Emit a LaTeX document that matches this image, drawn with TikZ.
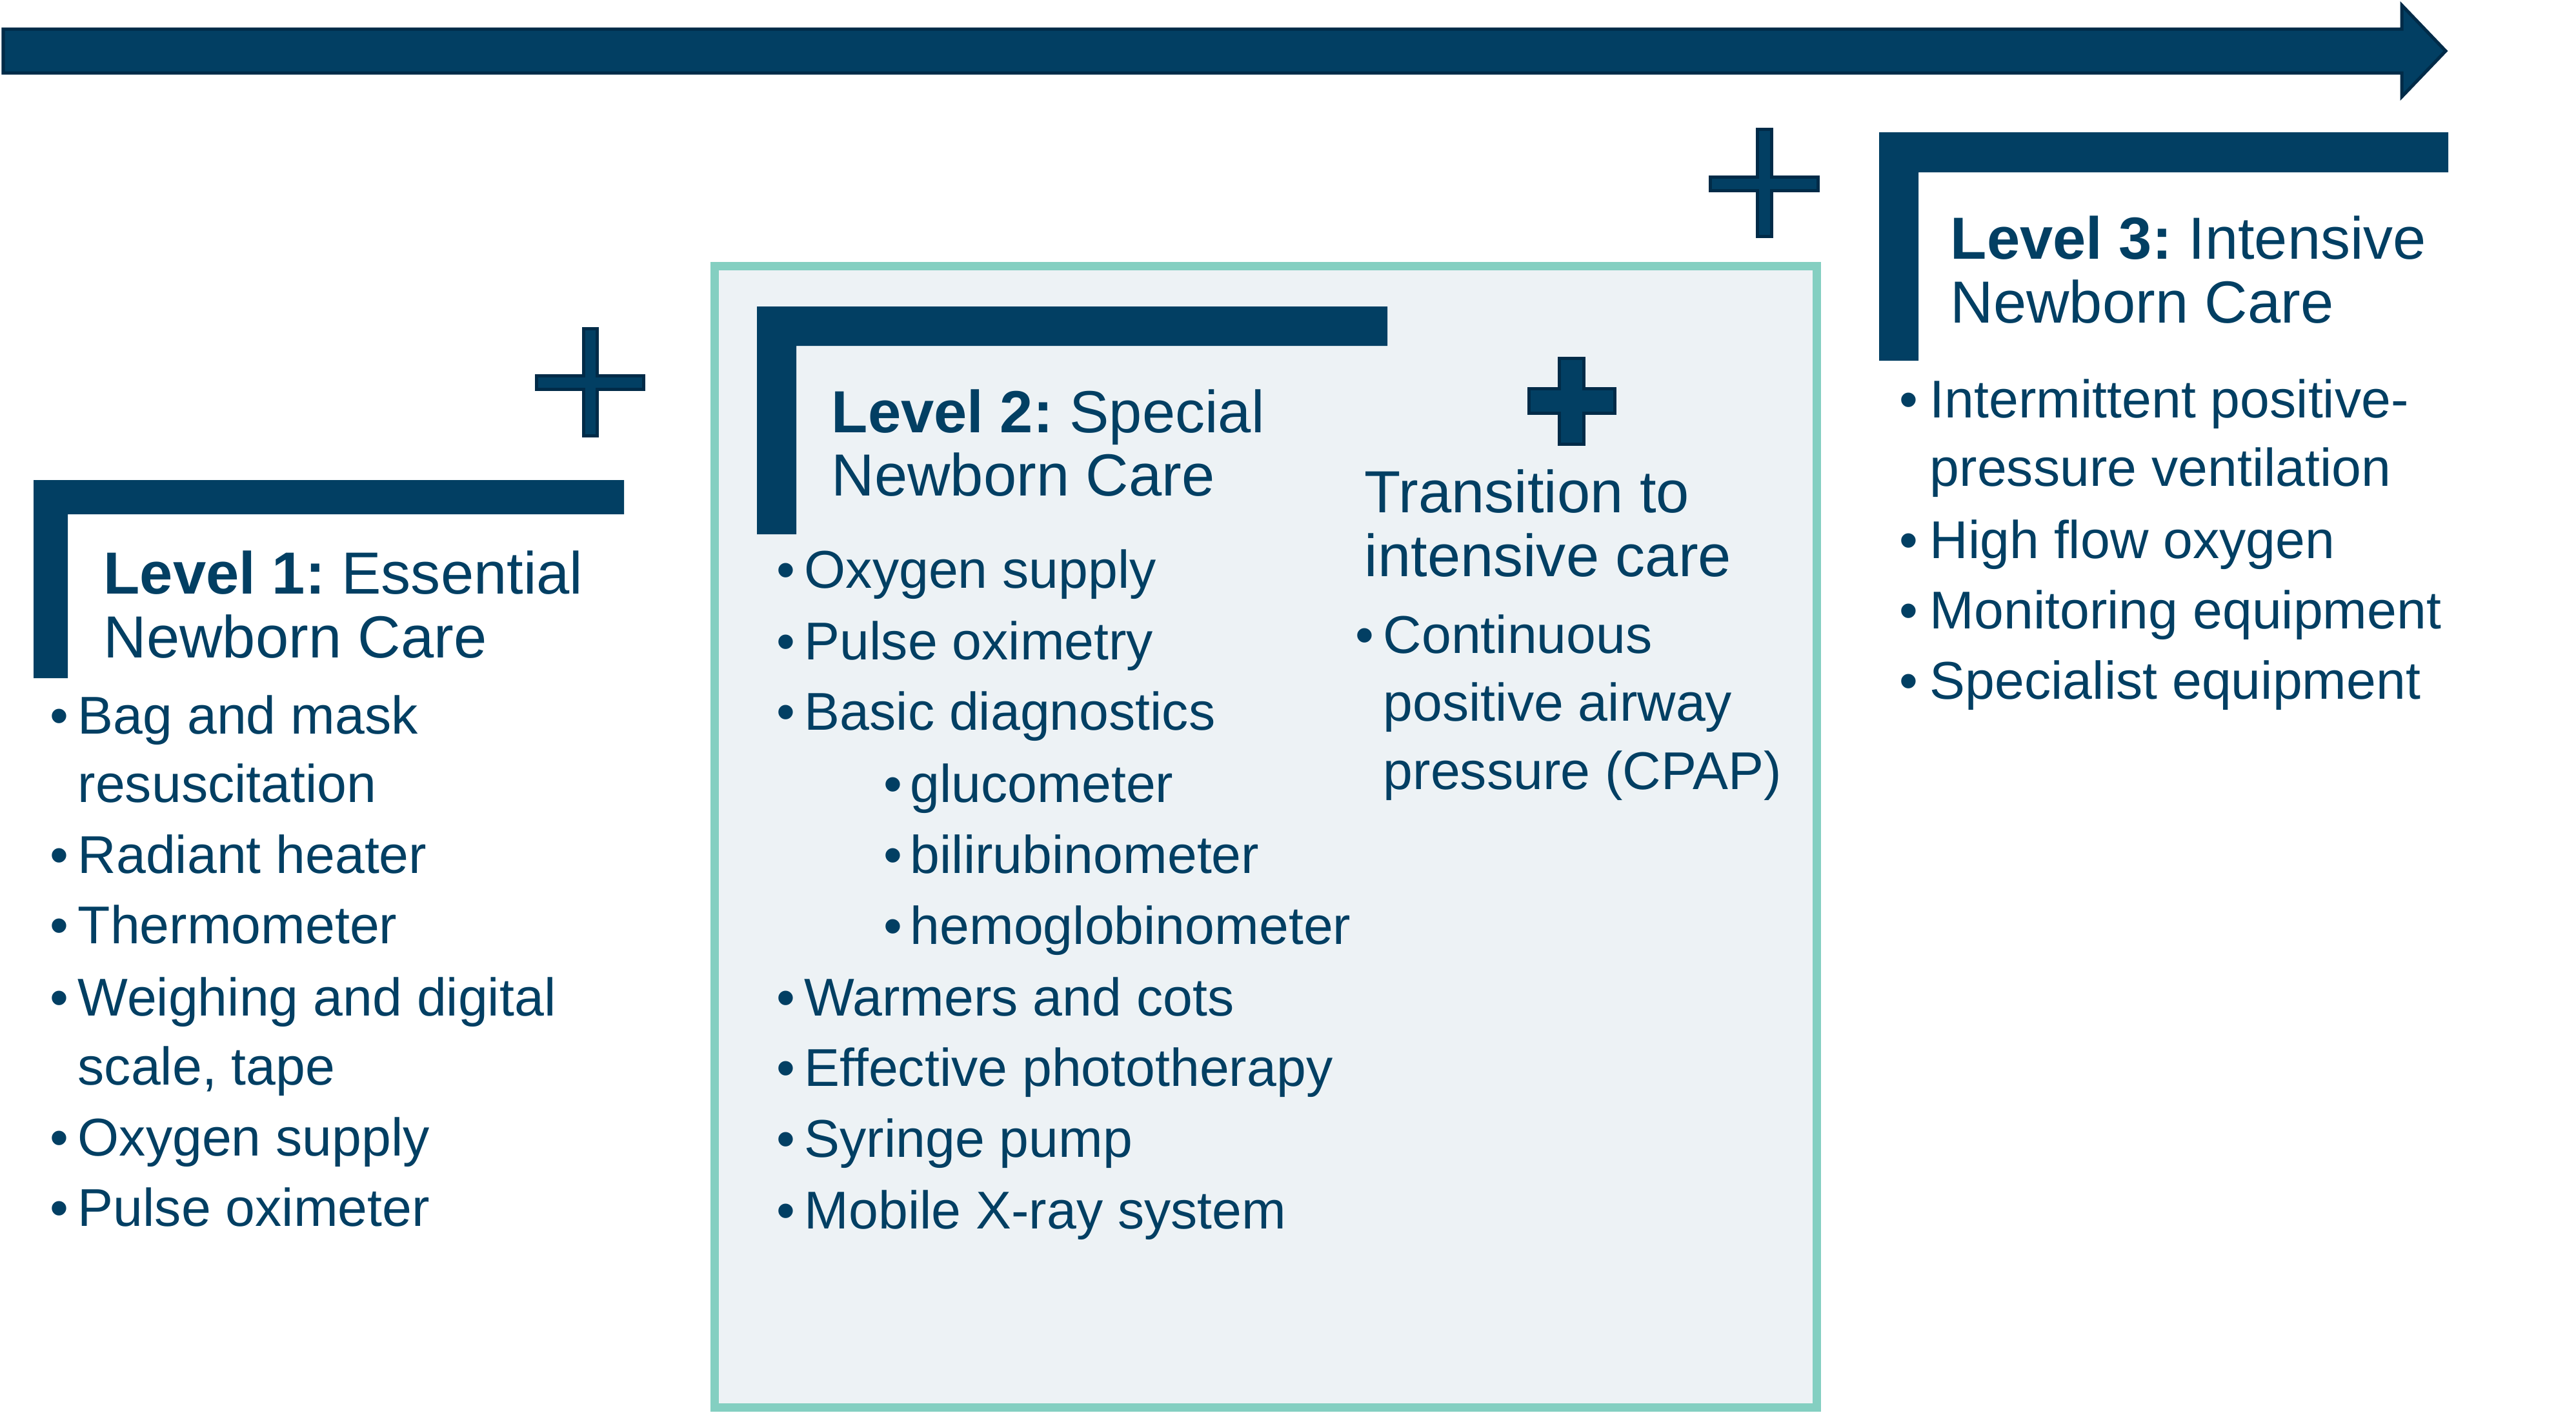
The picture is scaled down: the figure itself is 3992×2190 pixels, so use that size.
\documentclass[tikz,border=0pt]{standalone}
\usepackage{fontspec}
\setmainfont{Liberation Sans}
\frenchspacing
\definecolor{navy}{HTML}{023F63}
\definecolor{navydark}{HTML}{012B48}
\definecolor{tealb}{HTML}{84CFC1}
\definecolor{boxfill}{HTML}{EDF2F5}
\tikzset{
  bar/.style={fill=navy, draw=none},
  cross/.style={fill=navy, draw=navydark, line width=0.05cm, line join=miter},
  body/.style={inner sep=0pt, anchor=base west, text=navy, font=\fontsize{23.44pt}{28pt}\selectfont\frenchspacing},
  bul/.style={inner sep=0pt, anchor=base, text=navy, font=\fontsize{23.44pt}{28pt}\selectfont},
  ttl/.style={inner sep=0pt, anchor=base west, text=navy, font=\fontsize{26.2pt}{31pt}\selectfont\frenchspacing},
}
\begin{document}
\begin{tikzpicture}[x=0.01cm, y=-0.01cm]
\useasboundingbox (0,0) rectangle (3992,2190);

% timeline arrow
\draw[cross] (5,45) -- (3722,45) -- (3722,8) -- (3790,79) -- (3722,150) -- (3722,113) -- (5,113) -- cycle;

% level 2 box
\draw[fill=boxfill, draw=tealb, line width=0.13cm] (1107,412) rectangle (2815,2181);

% L-shaped bars
\fill[bar] (52,744) -- (967,744) -- (967,797) -- (105,797) -- (105,1051) -- (52,1051) -- cycle;
\fill[bar] (1173,475) -- (2150,475) -- (2150,536) -- (1234,536) -- (1234,828) -- (1173,828) -- cycle;
\fill[bar] (2912,205) -- (3794,205) -- (3794,267) -- (2973,267) -- (2973,559) -- (2912,559) -- cycle;

% plus signs (thin)
\draw[cross] (904,509) -- (925,509) -- (925,582) -- (997,582) -- (997,603) -- (925,603) -- (925,675) -- (904,675) -- (904,603) -- (831,603) -- (831,582) -- (904,582) -- cycle;
\draw[cross] (2723,200) -- (2745,200) -- (2745,274) -- (2817,274) -- (2817,295) -- (2745,295) -- (2745,366) -- (2723,366) -- (2723,295) -- (2650,295) -- (2650,274) -- (2723,274) -- cycle;
% plus sign (thick)
\draw[cross] (2416,555) -- (2454,555) -- (2454,602) -- (2502,602) -- (2502,640) -- (2454,640) -- (2454,688) -- (2416,688) -- (2416,640) -- (2369,640) -- (2369,602) -- (2416,602) -- cycle;

% Level 1
\node[ttl] (t1a) at (160,920) {\textbf{Level 1:} Essential};
\node[ttl] (t1b) at (160,1019) {Newborn Care};
\node[bul] (b1a) at (92,1137) {•};
\node[body] (l1a) at (120,1137) {Bag and mask};
\node[body] (l1b) at (120,1243) {resuscitation};
\node[bul] (b1c) at (92,1353) {•};
\node[body] (l1c) at (120,1353) {Radiant heater};
\node[bul] (b1d) at (92,1462) {•};
\node[body] (l1d) at (120,1462) {Thermometer};
\node[bul] (b1e) at (92,1574) {•};
\node[body] (l1e) at (120,1574) {Weighing and digital};
\node[body] (l1f) at (120,1681) {scale, tape};
\node[bul] (b1g) at (92,1791) {•};
\node[body] (l1g) at (120,1791) {Oxygen supply};
\node[bul] (b1h) at (92,1900) {•};
\node[body] (l1h) at (120,1900) {Pulse oximeter};

% Level 2
\node[ttl] (t2a) at (1288,670) {\textbf{Level 2:} Special};
\node[ttl] (t2b) at (1288,768) {Newborn Care};
\node[bul] (b2a) at (1218,911) {•};
\node[body] (l2a) at (1246,911) {Oxygen supply};
\node[bul] (b2b) at (1218,1022) {•};
\node[body] (l2b) at (1246,1022) {Pulse oximetry};
\node[bul] (b2c) at (1218,1131) {•};
\node[body] (l2c) at (1246,1131) {Basic diagnostics};
\node[bul] (b2d) at (1384,1243) {•};
\node[body] (l2d) at (1410,1243) {glucometer};
\node[bul] (b2e) at (1384,1353) {•};
\node[body] (l2e) at (1410,1353) {bilirubinometer};
\node[bul] (b2f) at (1384,1463) {•};
\node[body] (l2f) at (1410,1463) {hemoglobinometer};
\node[bul] (b2g) at (1218,1574) {•};
\node[body] (l2g) at (1246,1574) {Warmers and cots};
\node[bul] (b2h) at (1218,1683) {•};
\node[body] (l2h) at (1246,1683) {Effective phototherapy};
\node[bul] (b2i) at (1218,1793) {•};
\node[body] (l2i) at (1246,1793) {Syringe pump};
\node[bul] (b2j) at (1218,1904) {•};
\node[body] (l2j) at (1246,1904) {Mobile X-ray system};

% Transition
\node[ttl] (tta) at (2114,794) {Transition to};
\node[ttl] (ttb) at (2114,893) {intensive care};
\node[bul] (bta) at (2115,1012) {•};
\node[body] (lta) at (2143,1012) {Continuous};
\node[body] (ltb) at (2143,1117) {positive airway};
\node[body] (ltc) at (2143,1223) {pressure (CPAP)};

% Level 3
\node[ttl] (t3a) at (3022,401) {\textbf{Level 3:} Intensive};
\node[ttl] (t3b) at (3022,500) {Newborn Care};
\node[bul] (b3a) at (2958,647) {•};
\node[body] (l3a) at (2990,647) {Intermittent positive-};
\node[body] (l3b) at (2990,753) {pressure ventilation};
\node[bul] (b3c) at (2958,865) {•};
\node[body] (l3c) at (2990,865) {High flow oxygen};
\node[bul] (b3d) at (2958,974) {•};
\node[body] (l3d) at (2990,974) {Monitoring equipment};
\node[bul] (b3e) at (2958,1083) {•};
\node[body] (l3e) at (2990,1083) {Specialist equipment};
\end{tikzpicture}
\end{document}
